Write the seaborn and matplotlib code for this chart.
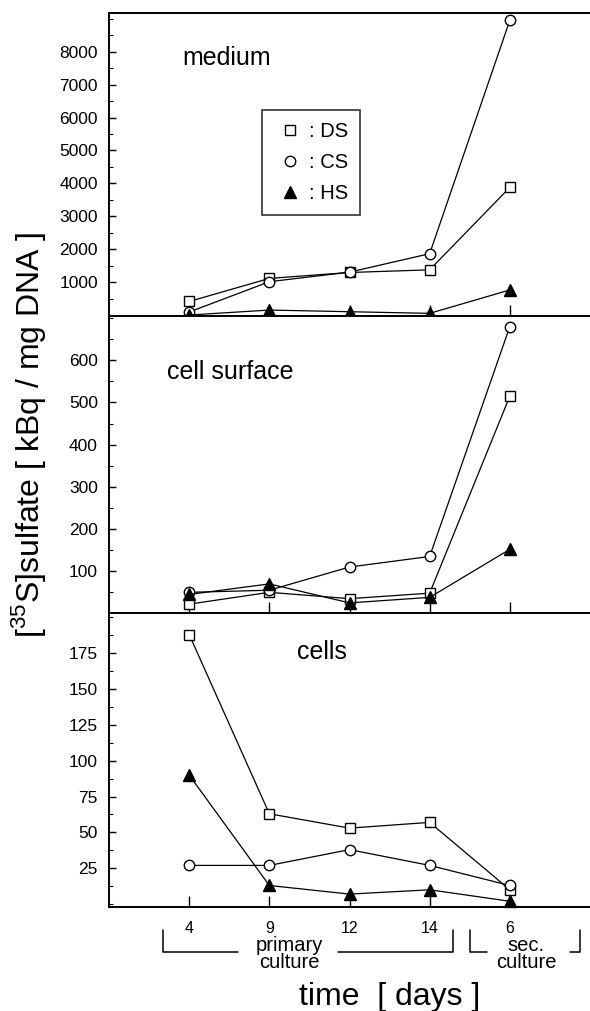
import numpy as np
import pandas as pd
import matplotlib
matplotlib.use("Agg")
import matplotlib.pyplot as plt
from matplotlib.lines import Line2D
from matplotlib.ticker import MultipleLocator, FixedLocator
import seaborn as sns

# time points (days) - primary culture 4, 9, 12, 14 ; secondary culture 6
day_labels = ["4", "9", "12", "14", "6"]
series = ["DS", "CS", "HS"]

medium_ds = [420, 1120, 1300, 1380, 3880]
medium_cs = [100, 1020, 1310, 1870, 8950]
medium_hs = [10, 160, 110, 60, 770]

surface_ds = [22, 50, 35, 48, 515]
surface_cs = [50, 55, 110, 135, 680]
surface_hs = [45, 70, 25, 38, 152]

cells_ds = [188, 63, 53, 57, 10]
cells_cs = [27, 27, 38, 27, 13]
cells_hs = [90, 13, 7, 10, 2]

panels = [
    ("medium", [medium_ds, medium_cs, medium_hs]),
    ("cell surface", [surface_ds, surface_cs, surface_hs]),
    ("cells", [cells_ds, cells_cs, cells_hs]),
]

sns.set_theme(style="ticks")
plt.rcParams["font.family"] = ["Liberation Sans", "DejaVu Sans"]
plt.rcParams["mathtext.fontset"] = "custom"
plt.rcParams["mathtext.rm"] = "Liberation Sans"
for key in ["text.color", "axes.labelcolor", "xtick.color", "ytick.color"]:
    plt.rcParams[key] = "black"

W, H = 590, 1011
fig = plt.figure(figsize=(W / 100, H / 100), dpi=100)
gs = fig.add_gridspec(3, 1, left=109 / W, right=1.0, top=1 - 13 / H, bottom=1 - 907 / H,
                      height_ratios=[303, 297, 294], hspace=0)

style = {
    "DS": dict(marker="s", markersize=7.5, markerfacecolor="white"),
    "CS": dict(marker="o", markersize=7.5, markerfacecolor="white"),
    "HS": dict(marker="^", markersize=9, markerfacecolor="black"),
}

ylims = [(-20, 9170), (1, 705), (-2, 203)]
majors = [np.arange(1000, 8001, 1000), np.arange(100, 601, 100), np.arange(25, 176, 25)]
minors = [500, 50, 12.5]
label_pos = [(0.152, 0.85), (0.12, 0.81), (0.39, 0.867)]

axes = []
for i, (name, vals) in enumerate(panels):
    ax = fig.add_subplot(gs[i])
    axes.append(ax)
    for s, v in zip(series, vals):
        df = pd.DataFrame({"pos": np.arange(len(day_labels)), "value": v})
        sns.lineplot(data=df, x="pos", y="value", ax=ax, color="black", linewidth=0.9,
                     markeredgecolor="black", markeredgewidth=1.0, clip_on=False,
                     zorder=3, **style[s])
    ax.set_xlim(-1, 5)
    ax.set_ylim(*ylims[i])
    ax.yaxis.set_major_locator(FixedLocator(majors[i]))
    ax.yaxis.set_minor_locator(MultipleLocator(minors[i]))
    ax.set_xticks(np.arange(len(day_labels)))
    ax.set_xticklabels(day_labels if i == 2 else [])
    ax.tick_params(axis="y", which="major", direction="in", length=5, width=1, labelsize=12.5, pad=8)
    ax.tick_params(axis="y", which="minor", direction="in", length=3, width=0.8)
    ax.tick_params(axis="x", which="major", direction="in", length=8, width=1, labelsize=11.5, pad=10)
    ax.set_xlabel("")
    ax.set_ylabel("")
    for sp in ["left", "bottom", "top"]:
        ax.spines[sp].set_linewidth(1.4)
        ax.spines[sp].set_color("black")
    ax.spines["right"].set_visible(False)
    ax.text(label_pos[i][0], label_pos[i][1], name, transform=ax.transAxes,
            fontsize=18, va="center", ha="left")

# legend in the top panel
handles = [Line2D([], [], linestyle="none", color="black", markeredgecolor="black",
                  markeredgewidth=1.0, **style[s]) for s in series]
leg = axes[0].legend(handles, [": " + s for s in series], loc="upper left",
                     bbox_to_anchor=(0.318, 0.68), frameon=True, fancybox=False,
                     edgecolor="black", fontsize=14.5, handlelength=1.6, handletextpad=0.15,
                     labelspacing=0.6, borderpad=0.6, borderaxespad=0)
leg.get_frame().set_linewidth(1.2)

# y axis label
fig.text(29 / W, 1 - 435 / H, r"[$^{35}$S]sulfate [ kBq / mg DNA ]", rotation=90,
         fontsize=23, ha="center", va="center")

# culture brackets under the x axis
def fx(px):
    return px / W

def fy(py):
    return 1 - py / H

y0, y1 = 930, 952
bracket_lines = [
    [(163, y0), (163, y1), (238, y1)],
    [(338, y1), (453, y1), (453, y0)],
    [(470, y0), (470, y1), (487, y1)],
    [(570, y1), (580, y1), (580, y0)],
]
for seg in bracket_lines:
    fig.add_artist(Line2D([fx(p[0]) for p in seg], [fy(p[1]) for p in seg],
                          color="black", linewidth=1.1))

fig.text(fx(289), fy(954), "primary\nculture", ha="center", va="center",
         fontsize=14.5, linespacing=0.9)
fig.text(fx(526), fy(954), "sec.\nculture", ha="center", va="center",
         fontsize=14.5, linespacing=0.9)
fig.text(fx(390), fy(997), "time  [ days ]", ha="center", va="center", fontsize=23)

fig.savefig("out.png", dpi=100)
